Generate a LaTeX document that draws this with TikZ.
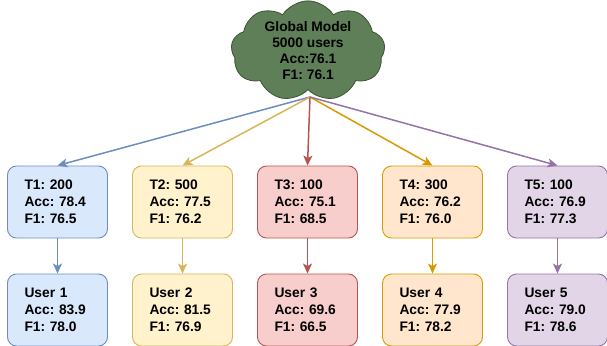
\documentclass[tikz,border=0pt]{standalone}
\usepackage{fontspec}
\setmainfont{Liberation Sans}
\usetikzlibrary{arrows.meta,shapes.symbols}
\definecolor{bluefill}{HTML}{DAE8FC}
\definecolor{blueline}{HTML}{6C8EBF}
\definecolor{yellowfill}{HTML}{FFF2CC}
\definecolor{yellowline}{HTML}{D6B656}
\definecolor{redfill}{HTML}{F8CECC}
\definecolor{redline}{HTML}{B85450}
\definecolor{orangefill}{HTML}{FFE6CC}
\definecolor{orangeline}{HTML}{D79B00}
\definecolor{purplefill}{HTML}{E1D5E7}
\definecolor{purpleline}{HTML}{9673A6}
\definecolor{cloudfill}{HTML}{5F7F59}
\definecolor{cloudline}{HTML}{3A5431}
\frenchspacing
\begin{document}
\begin{tikzpicture}[x=1pt,y=-1pt,
    box/.style={rectangle,rounded corners=9pt,draw,line width=0.9pt,
      minimum height=72pt,text width=66pt,inner xsep=17pt,align=left,
      font=\fontsize{13.8}{17}\selectfont\bfseries},
    link/.style={line width=1.5pt,-{Stealth[length=10pt,width=9pt,inset=2.5pt]}}]
  \useasboundingbox (0,0) rectangle (607,345);
  % global model
  \node (global) [cloud,cloud puffs=9,cloud puff arc=115,cloud ignores aspect,
    draw=cloudline,fill=cloudfill,line width=0.8pt,minimum width=154pt,
    minimum height=92pt,align=center,inner sep=0pt,
    font=\fontsize{13.8}{16}\selectfont\bfseries]
    at (308,51) {Global Model\\5000 users\\Acc:76.1\\F1: 76.1};
  % tasks
  \node (t1) [box,fill=bluefill,draw=blueline] at (57.5,202)
    {T1: 200\\Acc: 78.4\\F1: 76.5};
  \node (t2) [box,fill=yellowfill,draw=yellowline] at (182.5,202)
    {T2: 500\\Acc: 77.5\\F1: 76.2};
  \node (t3) [box,fill=redfill,draw=redline] at (307.5,202)
    {T3: 100\\Acc: 75.1\\F1: 68.5};
  \node (t4) [box,fill=orangefill,draw=orangeline] at (432.5,202)
    {T4: 300\\Acc: 76.2\\F1: 76.0};
  \node (t5) [box,fill=purplefill,draw=purpleline] at (557.5,202)
    {T5: 100\\Acc: 76.9\\F1: 77.3};
  % users
  \node (u1) [box,fill=bluefill,draw=blueline] at (57.5,310)
    {User 1\\Acc: 83.9\\F1: 78.0};
  \node (u2) [box,fill=yellowfill,draw=yellowline] at (182.5,310)
    {User 2\\Acc: 81.5\\F1: 76.9};
  \node (u3) [box,fill=redfill,draw=redline] at (307.5,310)
    {User 3\\Acc: 69.6\\F1: 66.5};
  \node (u4) [box,fill=orangefill,draw=orangeline] at (432.5,310)
    {User 4\\Acc: 77.9\\F1: 78.2};
  \node (u5) [box,fill=purplefill,draw=purpleline] at (557.5,310)
    {User 5\\Acc: 79.0\\F1: 78.6};
  % arrows
  \coordinate (root) at (310,97);
  \draw [link,blueline] (root) -- (t1.north);
  \draw [link,yellowline] (root) -- (t2.north);
  \draw [link,redline] (root) -- (t3.north);
  \draw [link,orangeline] (root) -- (t4.north);
  \draw [link,purpleline] (root) -- (t5.north);
  \draw [link,blueline] (t1) -- (u1);
  \draw [link,yellowline] (t2) -- (u2);
  \draw [link,redline] (t3) -- (u3);
  \draw [link,orangeline] (t4) -- (u4);
  \draw [link,purpleline] (t5) -- (u5);
\end{tikzpicture}
\end{document}
